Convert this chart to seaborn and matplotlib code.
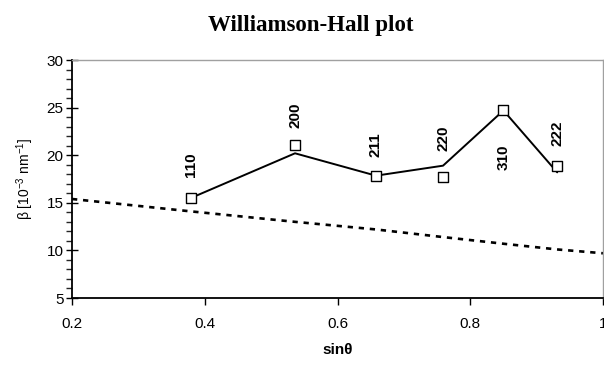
import matplotlib
matplotlib.use("Agg")
import matplotlib.pyplot as plt
import seaborn as sns
import pandas as pd
from matplotlib.ticker import MultipleLocator

sns.set_theme(style="white")
plt.rcParams['font.family'] = ['Liberation Sans', 'DejaVu Sans']
plt.rcParams['mathtext.default'] = 'regular'
plt.rcParams['text.color'] = 'black'
plt.rcParams['axes.labelcolor'] = 'black'

# data
sin_theta = [0.379, 0.536, 0.658, 0.759, 0.850, 0.931]
beta_measured = [15.5, 21.1, 17.85, 17.7, 24.7, 18.9]
beta_line = [15.5, 20.2, 17.85, 18.9, 24.7, 18.2]
hkl = ["110", "200", "211", "220", "310", "222"]
label_y = [19.0, 24.2, 21.1, 21.8, 19.8, 22.3]

dash_x = [0.2, 0.379, 0.536, 0.658, 0.759, 0.850, 0.931, 1.0]
dash_y = [15.4, 14.1, 13.0, 12.2, 11.4, 10.7, 10.1, 9.7]

fig = plt.figure(figsize=(6.04, 3.65), dpi=100)
ax = fig.add_axes([72/604, 1-298/365, 531/604, 238/365])

df_line = pd.DataFrame({"x": sin_theta, "y": beta_line})
df_pts = pd.DataFrame({"x": sin_theta, "y": beta_measured})
df_dash = pd.DataFrame({"x": dash_x, "y": dash_y})

sns.lineplot(data=df_dash, x="x", y="y", ax=ax, color="black", lw=1.9,
             linestyle=(0, (2.0, 2.2)), sort=False, clip_on=False)
sns.lineplot(data=df_line, x="x", y="y", ax=ax, color="black", lw=1.4, sort=False)
sns.scatterplot(data=df_pts, x="x", y="y", ax=ax, marker="s", s=55,
                facecolor="white", edgecolor="black", linewidth=1.0, zorder=5)

for xv, yv, t in zip(sin_theta, label_y, hkl):
    ax.text(xv, yv, t, rotation=90, ha="center", va="center",
            fontsize=11, fontweight="bold", color="black")

ax.set_xlim(0.2, 1.0)
ax.set_ylim(5, 30)
ax.yaxis.set_major_locator(MultipleLocator(5))
ax.yaxis.set_minor_locator(MultipleLocator(1))
ax.set_xticks([0.2, 0.4, 0.6, 0.8, 1.0])
ax.set_xticklabels(["0.2", "0.4", "0.6", "0.8", "1"])

ax.tick_params(axis="y", which="major", direction="inout", length=8, width=1.0,
               labelsize=11, colors="black", pad=2, left=True)
ax.tick_params(axis="y", which="minor", direction="out", length=4, width=1.0, left=True)
ax.tick_params(axis="x", which="major", direction="out", length=5, width=1.0,
               labelsize=11, colors="black", pad=9, bottom=True)

for s in ["left", "bottom"]:
    ax.spines[s].set_color("black")
    ax.spines[s].set_linewidth(1.3)
for s in ["top", "right"]:
    ax.spines[s].set_color("#a0a0a0")
    ax.spines[s].set_linewidth(1.0)

ax.set_xlabel("sinθ", fontsize=11, fontweight="bold", labelpad=8)
ax.set_ylabel("β [10$^{-3}$ nm$^{-1}$]", fontsize=10, labelpad=8)

fig.text(311/604, 1-25/365, "Williamson-Hall plot", ha="center", va="center",
         fontsize=16.5, fontweight="bold", family="Liberation Serif", color="black")

fig.savefig("out.png", dpi=100)
